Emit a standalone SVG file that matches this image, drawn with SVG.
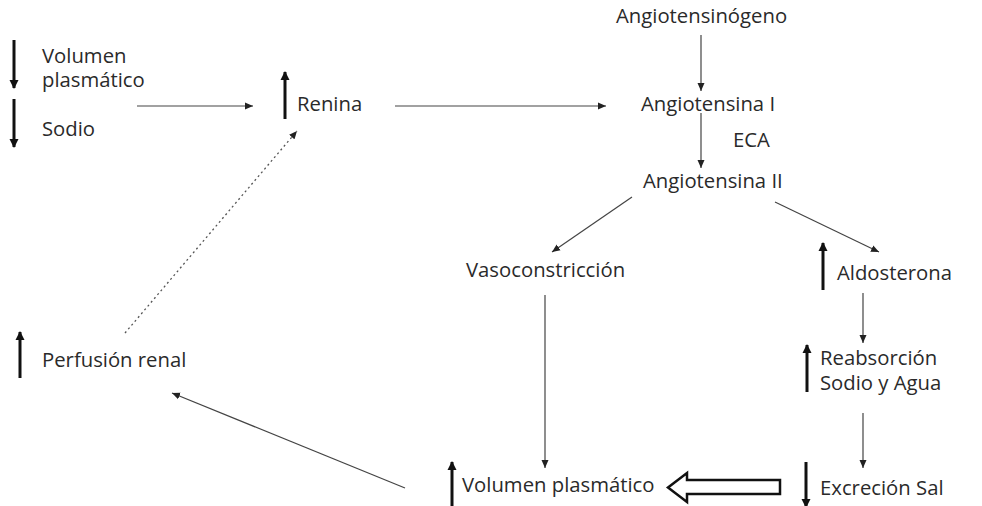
<svg xmlns="http://www.w3.org/2000/svg" width="982" height="506" viewBox="0 0 982 506">
<style>
text{font-family:"Open Sans","Noto Sans","Liberation Sans",sans-serif;font-size:20.3px;fill:#2a2a2a}
.thin{stroke:#444;stroke-width:1.2;fill:none;marker-end:url(#ah)}
.dot{stroke:#555;stroke-width:1.3;fill:none;stroke-dasharray:2 3;marker-end:url(#ah)}
.thick{stroke:#111;stroke-width:3;fill:none;marker-end:url(#th)}
</style>
<defs>
<marker id="ah" markerUnits="userSpaceOnUse" markerWidth="8" markerHeight="8" refX="8" refY="4" orient="auto"><path d="M0,0.5 L8,4 L0,7.5 z" fill="#222"/></marker>
<marker id="th" markerUnits="userSpaceOnUse" markerWidth="9" markerHeight="10" refX="8" refY="5" orient="auto"><path d="M0,0.5 L9,5 L0,9.5 z" fill="#111"/></marker>
</defs>
<rect width="982" height="506" fill="#fff"/>
<g id="connectors">
<line class="thin" x1="137" y1="106" x2="253" y2="106"/>
<line class="thin" x1="395" y1="106" x2="606" y2="106"/>
<line class="thin" x1="701" y1="35" x2="701" y2="91"/>
<line class="thin" x1="701" y1="113" x2="701" y2="168"/>
<line class="thin" x1="632" y1="197" x2="552" y2="252"/>
<line class="thin" x1="775" y1="202" x2="879" y2="252"/>
<line class="thin" x1="545" y1="295" x2="545" y2="468"/>
<line class="thin" x1="863" y1="293" x2="863" y2="343"/>
<line class="thin" x1="863" y1="413" x2="863" y2="468"/>
<line class="thin" x1="405" y1="488" x2="172" y2="393"/>
<line class="dot" x1="125" y1="333" x2="297" y2="131"/>
<path d="M668,487.5 L687,473 L687,480 L780,480 L780,494 L687,494 L687,502 Z" fill="#fff" stroke="#111" stroke-width="2.5" stroke-linejoin="miter"/>
</g>
<g id="n-volumen">
<line class="thick" x1="14" y1="40" x2="14" y2="88"/>
<text x="42" y="63">Volumen</text>
<text x="42" y="87">plasmático</text>
</g>
<g id="n-sodio">
<line class="thick" x1="14" y1="99" x2="14" y2="147"/>
<text x="42" y="136">Sodio</text>
</g>
<g id="n-renina">
<line class="thick" x1="285" y1="119" x2="285" y2="72"/>
<text x="297" y="111">Renina</text>
</g>
<g id="n-angiotensinogeno"><text x="616" y="23">Angiotensinógeno</text></g>
<g id="n-angiotensina1"><text x="641" y="111">Angiotensina I</text></g>
<g id="n-eca"><text x="733" y="147">ECA</text></g>
<g id="n-angiotensina2"><text x="643" y="188">Angiotensina II</text></g>
<g id="n-vasoconstriccion"><text x="466" y="277">Vasoconstricción</text></g>
<g id="n-aldosterona">
<line class="thick" x1="823" y1="290" x2="823" y2="243"/>
<text x="837" y="280">Aldosterona</text>
</g>
<g id="n-reabsorcion">
<line class="thick" x1="807" y1="392" x2="807" y2="345"/>
<text x="820" y="365">Reabsorción</text>
<text x="820" y="390">Sodio y Agua</text>
</g>
<g id="n-excrecion">
<line class="thick" x1="806" y1="462" x2="806" y2="507"/>
<text x="820" y="495">Excreción Sal</text>
</g>
<g id="n-volumen2">
<line class="thick" x1="452" y1="510" x2="452" y2="462"/>
<text x="462" y="492">Volumen plasmático</text>
</g>
<g id="n-perfusion">
<line class="thick" x1="20" y1="378" x2="20" y2="332"/>
<text x="42" y="367">Perfusión renal</text>
</g>
</svg>
